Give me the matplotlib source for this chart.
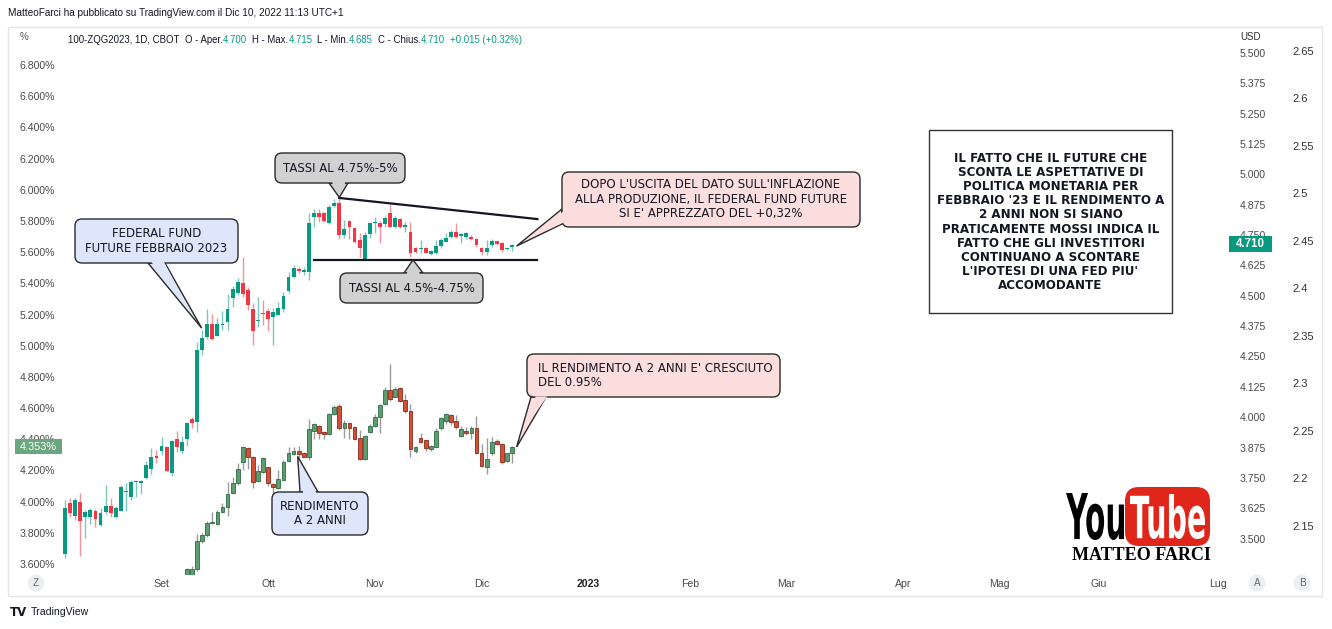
import numpy as np
import matplotlib
matplotlib.use("Agg")
import matplotlib.pyplot as plt
from matplotlib.patches import FancyBboxPatch, Polygon, Rectangle, Circle, PathPatch
from matplotlib.textpath import TextPath
from matplotlib.font_manager import FontProperties
import matplotlib.transforms as mtransforms

# ---------------- DATA ----------------
# 100-ZQG2023 (Fed Funds future Feb 2023, implied rate, USD scale), daily bars
zq_open = [3.435, 3.645, 3.594, 3.651, 3.588, 3.588, 3.612, 3.556, 3.611, 3.634,
           3.588, 3.615, 3.692, 3.673, 3.732, 3.728, 3.749, 3.786, 3.842, 3.861,
           3.879, 3.772, 3.909, 3.861, 3.909, 3.993, 3.981, 4.277, 4.332, 4.384,
           4.336, 4.380, 4.393, 4.490, 4.513, 4.551, 4.524, 4.444, 4.396, 4.431,
           4.439, 4.411, 4.421, 4.444, 4.520, 4.576, 4.609, 4.599, 4.597, 4.826,
           4.842, 4.840, 4.799, 4.870, 4.881, 4.750, 4.809, 4.780, 4.730, 4.652,
           4.755, 4.799, 4.801, 4.795, 4.842, 4.785, 4.815, 4.782, 4.764, 4.696,
           4.692, 4.696, 4.672, 4.675, 4.705, 4.723, 4.743, 4.764, 4.746, 4.743,
           4.743, 4.733, 4.696, 4.682, 4.709, 4.726, 4.716, 4.692, 4.700]
zq_high = [3.659, 3.667, 3.667, 3.687, 3.618, 3.625, 3.621, 3.625, 3.721, 3.666,
           3.634, 3.721, 3.728, 3.741, 3.737, 3.741, 3.820, 3.872, 3.865, 3.917,
           3.882, 3.906, 3.943, 3.923, 3.981, 4.001, 4.311, 4.359, 4.446, 4.425,
           4.409, 4.439, 4.507, 4.540, 4.573, 4.661, 4.537, 4.469, 4.496, 4.483,
           4.449, 4.449, 4.476, 4.517, 4.599, 4.627, 4.620, 4.620, 4.840, 4.858,
           4.857, 4.847, 4.874, 4.898, 4.902, 4.812, 4.812, 4.785, 4.757, 4.763,
           4.805, 4.823, 4.809, 4.829, 4.878, 4.829, 4.819, 4.805, 4.805, 4.703,
           4.730, 4.703, 4.689, 4.730, 4.737, 4.757, 4.771, 4.799, 4.757, 4.764,
           4.750, 4.737, 4.703, 4.730, 4.733, 4.727, 4.723, 4.698, 4.715]
zq_low = [3.419, 3.590, 3.577, 3.428, 3.501, 3.560, 3.547, 3.553, 3.600, 3.588,
          3.586, 3.613, 3.613, 3.659, 3.673, 3.682, 3.747, 3.766, 3.813, 3.845,
          3.778, 3.758, 3.858, 3.854, 3.881, 3.956, 3.940, 4.256, 4.322, 4.318,
          4.334, 4.359, 4.359, 4.455, 4.503, 4.496, 4.442, 4.296, 4.373, 4.380,
          4.356, 4.296, 4.419, 4.434, 4.510, 4.573, 4.593, 4.586, 4.565, 4.785,
          4.805, 4.805, 4.797, 4.867, 4.733, 4.737, 4.733, 4.716, 4.661, 4.650,
          4.737, 4.758, 4.716, 4.785, 4.783, 4.778, 4.778, 4.764, 4.661, 4.677,
          4.677, 4.675, 4.668, 4.672, 4.696, 4.722, 4.740, 4.737, 4.716, 4.733,
          4.730, 4.703, 4.668, 4.668, 4.703, 4.709, 4.682, 4.689, 4.685]
zq_close = [3.627, 3.604, 3.659, 3.574, 3.611, 3.618, 3.581, 3.604, 3.636, 3.604,
            3.627, 3.711, 3.694, 3.734, 3.736, 3.737, 3.803, 3.835, 3.833, 3.881,
            3.780, 3.902, 3.879, 3.897, 3.977, 3.977, 4.277, 4.325, 4.384, 4.322,
            4.384, 4.384, 4.446, 4.527, 4.558, 4.506, 4.462, 4.356, 4.400, 4.425,
            4.403, 4.434, 4.449, 4.499, 4.579, 4.613, 4.603, 4.606, 4.799, 4.840,
            4.826, 4.809, 4.867, 4.884, 4.750, 4.774, 4.782, 4.723, 4.696, 4.750,
            4.799, 4.805, 4.785, 4.819, 4.785, 4.819, 4.785, 4.792, 4.677, 4.682,
            4.696, 4.677, 4.686, 4.705, 4.730, 4.737, 4.764, 4.743, 4.753, 4.757,
            4.733, 4.709, 4.682, 4.696, 4.726, 4.713, 4.689, 4.695, 4.710]

# US 2-year yield (%), starting at bar 24
y2_start = 24
y2_open = [3.500, 3.530, 3.566, 3.749, 3.784, 3.861, 3.857, 3.935, 3.963, 4.053,
           4.117, 4.256, 4.346, 4.288, 4.134, 4.190, 4.221, 4.111, 4.085, 4.139,
           4.261, 4.305, 4.325, 4.310, 4.288, 4.455, 4.485, 4.448, 4.434, 4.562,
           4.613, 4.470, 4.506, 4.477, 4.410, 4.273, 4.448, 4.485, 4.541, 4.624,
           4.716, 4.673, 4.727, 4.652, 4.581, 4.326, 4.410, 4.395, 4.336, 4.352,
           4.470, 4.517, 4.556, 4.519, 4.421, 4.455, 4.438, 4.474, 4.310, 4.224,
           4.310, 4.389, 4.367, 4.261, 4.314]
y2_high = [3.574, 3.590, 3.792, 3.797, 3.878, 3.935, 3.946, 3.989, 4.128, 4.160,
           4.250, 4.357, 4.352, 4.293, 4.235, 4.288, 4.224, 4.117, 4.203, 4.267,
           4.352, 4.352, 4.357, 4.320, 4.528, 4.506, 4.491, 4.455, 4.566, 4.620,
           4.626, 4.523, 4.513, 4.481, 4.459, 4.427, 4.496, 4.560, 4.626, 4.737,
           4.881, 4.733, 4.737, 4.690, 4.626, 4.357, 4.438, 4.400, 4.361, 4.470,
           4.541, 4.566, 4.560, 4.555, 4.487, 4.481, 4.485, 4.549, 4.367, 4.406,
           4.412, 4.400, 4.374, 4.314, 4.357]
y2_low = [3.470, 3.510, 3.557, 3.733, 3.775, 3.856, 3.850, 3.929, 3.908, 4.046,
          4.107, 4.203, 4.207, 4.085, 4.128, 4.184, 4.100, 4.036, 4.079, 4.135,
          4.256, 4.299, 4.278, 4.284, 4.267, 4.400, 4.400, 4.400, 4.427, 4.555,
          4.459, 4.406, 4.400, 4.395, 4.267, 4.267, 4.442, 4.481, 4.438, 4.620,
          4.647, 4.669, 4.641, 4.570, 4.288, 4.314, 4.374, 4.327, 4.327, 4.348,
          4.459, 4.498, 4.491, 4.466, 4.413, 4.427, 4.400, 4.305, 4.220, 4.177,
          4.299, 4.363, 4.241, 4.256, 4.250]
y2_close = [3.566, 3.568, 3.748, 3.786, 3.865, 3.871, 3.935, 3.967, 4.049, 4.121,
            4.207, 4.352, 4.288, 4.128, 4.196, 4.278, 4.117, 4.092, 4.145, 4.256,
            4.310, 4.325, 4.305, 4.288, 4.464, 4.496, 4.442, 4.432, 4.560, 4.609,
            4.470, 4.506, 4.474, 4.402, 4.273, 4.421, 4.485, 4.545, 4.620, 4.716,
            4.660, 4.722, 4.647, 4.581, 4.335, 4.348, 4.384, 4.342, 4.357, 4.455,
            4.534, 4.560, 4.513, 4.481, 4.464, 4.438, 4.474, 4.310, 4.228, 4.273,
            4.384, 4.367, 4.256, 4.310, 4.353]

month_labels = ["Set", "Ott", "Nov", "Dic", "2023", "Feb", "Mar", "Apr", "Mag", "Giu", "Lug"]
month_pos = [19, 40, 61, 82, 103, 123, 142, 165, 184, 203.5, 227]

pct_ticks = [3.6, 3.8, 4.0, 4.2, 4.4, 4.6, 4.8, 5.0, 5.2, 5.4, 5.6, 5.8, 6.0, 6.2, 6.4, 6.6, 6.8]
usd_ticks = [3.5, 3.625, 3.75, 3.875, 4.0, 4.125, 4.25, 4.375, 4.5, 4.625, 4.75, 4.875,
             5.0, 5.125, 5.25, 5.375, 5.5]
b_ticks = [2.15, 2.2, 2.25, 2.3, 2.35, 2.4, 2.45, 2.5, 2.55, 2.6, 2.65]
b_labels = ["2.15", "2.2", "2.25", "2.3", "2.35", "2.4", "2.45", "2.5", "2.55", "2.6", "2.65"]

support_level = 4.648          # "TASSI AL 4.5%-4.75%" line (USD scale)
trend_start = (54, 4.903)      # descending trendline (bar, USD)
trend_end = (93, 4.816)
line_end_bar = 93

# ---------------- FIGURE ----------------
W, H = 1332, 629
fig = plt.figure(figsize=(W / 100, H / 100), dpi=100)
fig.patch.set_facecolor("white")
plt.rcParams["font.family"] = ["DejaVu Sans"]
UI = ["Liberation Sans", "DejaVu Sans"]

def fx(px):
    return px / W

def fy(py):
    return 1 - py / H

PX = mtransforms.Affine2D().scale(1, -1).translate(0, H)  # pixel (top-left) -> display

L, R, T, B = 62, 1222, 28, 575
ax = fig.add_axes([fx(L), fy(B), fx(R) - fx(L), fy(T) - fy(B)])
ax.set_xlim(-0.59, 227.76)
ax.set_ylim(3.5295, 7.0373)
ax2 = ax.twinx()
ax2.set_ylim(3.350, 5.603)
ax3 = ax.twinx()
ax3.set_ylim(2.0984, 2.6742)

for a in (ax, ax2, ax3):
    for s in a.spines.values():
        s.set_visible(False)
    a.patch.set_visible(False)

tick_col = "#4a4a4a"
ax.set_yticks(pct_ticks)
ax.set_yticklabels([f"{v:.3f}%" for v in pct_ticks], family=UI)
ax.tick_params(axis="y", length=0, pad=5, labelsize=7.6, labelcolor=tick_col)
ax.set_xticks(month_pos)
ax.set_xticklabels(month_labels, family=UI)
ax.tick_params(axis="x", length=0, pad=3, labelsize=7.6, labelcolor=tick_col)
for lab in ax.get_xticklabels():
    if lab.get_text() == "2023":
        lab.set_fontweight("bold")
        lab.set_color("#222222")

ax2.set_yticks(usd_ticks)
ax2.set_yticklabels([f"{v:.3f}" for v in usd_ticks], family=UI)
ax2.tick_params(axis="y", length=0, pad=13, labelsize=7.6, labelcolor=tick_col)
ax3.set_yticks(b_ticks)
ax3.set_yticklabels(b_labels, family=UI)
ax3.tick_params(axis="y", length=0, pad=51, labelsize=8, labelcolor="#333333")

# ---------------- CANDLES ----------------
def candles(axis, start, o, h, l, c, up, dn, wup, wdn, eup, edn, width, minh, elw):
    o, h, l, c = map(np.asarray, (o, h, l, c))
    idx = np.arange(start, start + len(o))
    isup = c >= o
    axis.vlines(idx[isup], l[isup], h[isup], color=wup, lw=1.0, zorder=2)
    axis.vlines(idx[~isup], l[~isup], h[~isup], color=wdn, lw=1.0, zorder=2)
    bot = np.minimum(o, c)
    hei = np.maximum(np.abs(c - o), minh)
    axis.bar(idx[isup], hei[isup], width, bot[isup], color=up, edgecolor=eup, lw=elw, zorder=3)
    axis.bar(idx[~isup], hei[~isup], width, bot[~isup], color=dn, edgecolor=edn, lw=elw, zorder=3)

# 2Y yield on left % scale
candles(ax, y2_start, y2_open, y2_high, y2_low, y2_close,
        "#5c9e70", "#d24f38", "#9a9a9a", "#9a9a9a", "#2f6b45", "#8a2a1a",
        0.74, 0.007, 0.6)
# ZQ on USD scale
candles(ax2, 0, zq_open, zq_high, zq_low, zq_close,
        "#089981", "#f23645", "#7cc9bb", "#f4929b", "#089981", "#f23645",
        0.76, 0.0045, 0.0)

# support and trend lines
ax2.plot([49, line_end_bar], [support_level, support_level], color="#131722", lw=1.6, zorder=4)
ax2.plot([trend_start[0], trend_end[0]], [trend_start[1], trend_end[1]], color="#131722", lw=1.6, zorder=4)

# ---------------- ANNOTATIONS ----------------
def to_px(axis, x, y):
    d = axis.transData.transform((x, y))
    return (d[0], H - d[1])

def callout(box, base_a, base_b, tip, face, lines, fs, align="center", tx=None, rs=7):
    x0, y0, x1, y1 = box
    ptr = Polygon([base_a, tip, base_b], closed=True, fc=face, ec="#2a2a2a", lw=1.0,
                  transform=PX, zorder=5)
    fig.add_artist(ptr)
    bx = FancyBboxPatch((x0, y0), x1 - x0, y1 - y0,
                        boxstyle=f"round,pad=0,rounding_size={rs}",
                        fc=face, ec="#2a2a2a", lw=1.0, transform=PX, zorder=6)
    fig.add_artist(bx)
    a = np.array(base_a, float); b = np.array(base_b, float); t = np.array(tip, float)
    ai = a + (b - a) * 0.12
    bi = b - (b - a) * 0.12
    mid = (a + b) / 2
    cx, cy = (x0 + x1) / 2, (y0 + y1) / 2
    inward = np.array([cx, cy]) - mid
    inward = inward / np.linalg.norm(inward) * 3
    cover = Polygon([ai + inward, ai + (t - ai) * 0.35, bi + (t - bi) * 0.35, bi + inward],
                    closed=True, fc=face, ec="none", transform=PX, zorder=7)
    fig.add_artist(cover)
    if align == "left":
        fig.text(tx, cy, "\n".join(lines), transform=PX, ha="left", va="center",
                 multialignment="left", fontsize=fs, color="#131722", linespacing=1.15, zorder=8)
    else:
        fig.text(cx, cy, "\n".join(lines), transform=PX, ha="center", va="center",
                 fontsize=fs, color="#131722", linespacing=1.15, zorder=8)

callout((275, 153, 405, 183), (329, 183), (348, 183), to_px(ax2, 54, 4.905),
        "#d1d1d1", ["TASSI AL 4.75%-5%"], 8.5)
callout((340, 273, 483, 303), (404, 273), (423, 273), to_px(ax2, 68.5, support_level),
        "#d1d1d1", ["TASSI AL 4.5%-4.75%"], 8.5)
callout((562, 172, 860, 227), (562, 209), (562, 224), to_px(ax2, 88.9, 4.705),
        "#fcdede", ["DOPO L'USCITA DEL DATO SULL'INFLAZIONE",
                    "ALLA PRODUZIONE, IL FEDERAL FUND FUTURE",
                    "SI E' APPREZZATO DEL +0,32%"], 8.5)
callout((75, 219, 238, 263), (148, 263), (165, 263), to_px(ax2, 26.9, 4.367),
        "#dde6fa", ["FEDERAL FUND", "FUTURE FEBBRAIO 2023"], 8.5)
callout((272, 492, 368, 535), (300, 492), (318, 492), to_px(ax, 45.8, 4.29),
        "#dde6fa", ["RENDIMENTO", "A 2 ANNI"], 8.5)
callout((527, 354, 780, 397), (531, 397), (546, 397), to_px(ax, 88.9, 4.35),
        "#fcdede", ["IL RENDIMENTO A 2 ANNI E' CRESCIUTO", "DEL 0.95%"], 8.5,
        align="left", tx=538)

# info box
fig.add_artist(Rectangle((929, 130), 243, 183, fc="white", ec="#333333", lw=1.0,
                         transform=PX, zorder=5))
fig.text(1050.5, 222, "IL FATTO CHE IL FUTURE CHE\nSCONTA LE ASPETTATIVE DI\nPOLITICA MONETARIA PER\n"
         "FEBBRAIO '23 E IL RENDIMENTO A\n2 ANNI NON SI SIANO\nPRATICAMENTE MOSSI INDICA IL\n"
         "FATTO CHE GLI INVESTITORI\nCONTINUANO A SCONTARE\nL'IPOTESI DI UNA FED PIU'\nACCOMODANTE",
         transform=PX, ha="center", va="center", fontsize=8.6, fontweight="bold",
         color="#131722", linespacing=1.12, zorder=6)

# price tags (drawn over the scale labels, as in the platform)
fig.add_artist(Rectangle((15, 439), 47, 15, fc="#6aa77e", ec="none", transform=PX, zorder=5))
fig.text(38.5, 446.5, f"{y2_close[-1]:.3f}%", transform=PX, ha="center", va="center",
         fontsize=7.8, family=UI, color="white", zorder=6)
fig.add_artist(Rectangle((1229, 236), 43, 16, fc="#089981", ec="none", transform=PX, zorder=5))
fig.text(1250.5, 244, f"{zq_close[-1]:.3f}", transform=PX, ha="center", va="center",
         fontsize=8.3, fontweight="bold", family=UI, color="white", zorder=6)

# header and legend
fig.text(8, 13, "MatteoFarci ha pubblicato su TradingView.com il Dic 10, 2022 11:13 UTC+1",
         transform=PX, ha="left", va="center", fontsize=7.2, family=UI, color="#131722")
fig.text(20, 37, "%", transform=PX, ha="left", va="center", fontsize=7, family=UI, color="#555555")
fig.text(1240, 37, "USD", transform=PX, ha="left", va="center", fontsize=7, family=UI, color="#333333")

teal = "#089981"
dark = "#131722"
legend_parts = [("100-ZQG2023, 1D, CBOT", dark, 6), ("O - Aper.", dark, 0),
                (f"{zq_open[-1]:.3f}", teal, 5), ("H - Max.", dark, 0),
                (f"{zq_high[-1]:.3f}", teal, 5), ("L - Min.", dark, 0),
                (f"{zq_low[-1]:.3f}", teal, 5), ("C - Chius.", dark, 0),
                (f"{zq_close[-1]:.3f}", teal, 5), ("+0.015 (+0.32%)", teal, 0)]
renderer = fig.canvas.get_renderer()
xpos = 68
for s, c, gap in legend_parts:
    t = fig.text(xpos, 40, s, transform=PX, ha="left", va="center", fontsize=6.9,
                 family=UI, color=c)
    xpos += t.get_window_extent(renderer).width + gap

# scale buttons
for (cx, s) in [(36, "Z"), (1257, "A"), (1302, "B")]:
    fig.add_artist(Circle((cx, 583), 8.5, fc="#eceef2", ec="none", transform=PX, zorder=4))
    fig.text(cx, 583, s, transform=PX, ha="center", va="center", fontsize=7.2,
             family=UI, color="#666666", zorder=5)

# frame
fig.add_artist(Rectangle((8, 27), 1314, 569, fc="none", ec="#e3e5ea", lw=1.0, transform=PX))

# YouTube logo
def squeezed_text(s, x0, x1, ytop, ybot, color, weight="bold", z=6):
    tp = TextPath((0, 0), s, size=10, prop=FontProperties(family="DejaVu Sans", weight=weight))
    bb = tp.get_extents()
    sx = (x1 - x0) / bb.width
    sy = (ybot - ytop) / bb.height
    tr = (mtransforms.Affine2D().translate(-bb.x0, -bb.y0).scale(sx, sy)
          .translate(x0, H - ybot))
    fig.add_artist(PathPatch(tp, fc=color, ec="none", transform=tr, zorder=z))

fig.add_artist(FancyBboxPatch((1125, 487), 85, 59, boxstyle="round,pad=0,rounding_size=14",
                              fc="#e0251b", ec="none", transform=PX, zorder=5))
squeezed_text("You", 1066, 1124, 493, 540, "black")
squeezed_text("Tube", 1130, 1205, 494, 539, "white")
fig.text(1141, 556, "MATTEO FARCI", transform=PX, ha="center", va="center", fontsize=13,
         fontweight="bold", family=["Liberation Serif", "DejaVu Serif"],
         color="black", zorder=6)

# TradingView footer
fig.text(10, 612, "TV", transform=PX, ha="left", va="center", fontsize=8.5, fontweight="heavy",
         color="#131722")
fig.text(31, 612, "TradingView", transform=PX, ha="left", va="center", fontsize=7.6,
         family=UI, color="#131722")

fig.savefig("out.png", dpi=100, facecolor="white")
